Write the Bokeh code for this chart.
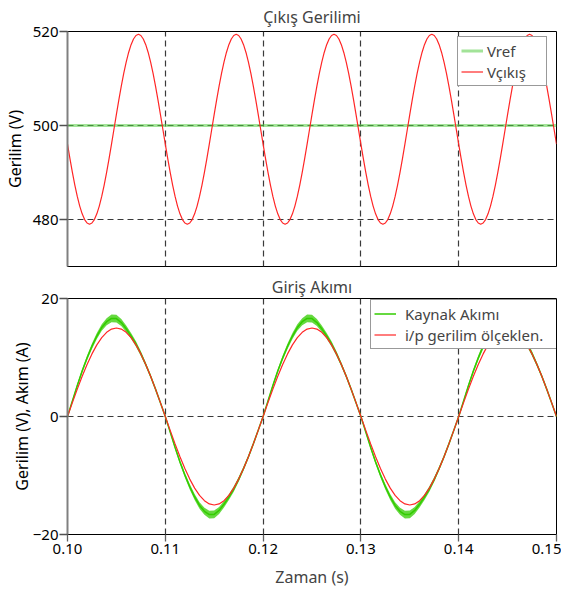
import numpy as np
from bokeh.plotting import figure
from bokeh.layouts import column
from bokeh.models import FixedTicker, Legend, LegendItem, Range1d
from bokeh.embed import file_html
from bokeh.resources import INLINE

FONT = "Noto Sans"

# ---------------- data ----------------
# top panel: output voltage sampled every 0.25 ms from 0.10 s to 0.15 s
t_top = np.round(np.linspace(0.10, 0.15, 201), 6)
v_out = [
    496.04, 492.96, 490.03, 487.33, 484.92, 482.86, 481.20, 479.99, 479.25, 479.00,
    479.25, 479.99, 481.20, 482.86, 484.92, 487.33, 490.03, 492.96, 496.04, 499.20,
    502.36, 505.44, 508.37, 511.07, 513.48, 515.54, 517.20, 518.41, 519.15, 519.40,
    519.15, 518.41, 517.20, 515.54, 513.48, 511.07, 508.37, 505.44, 502.36, 499.20,
    496.04, 492.96, 490.03, 487.33, 484.92, 482.86, 481.20, 479.99, 479.25, 479.00,
    479.25, 479.99, 481.20, 482.86, 484.92, 487.33, 490.03, 492.96, 496.04, 499.20,
    502.36, 505.44, 508.37, 511.07, 513.48, 515.54, 517.20, 518.41, 519.15, 519.40,
    519.15, 518.41, 517.20, 515.54, 513.48, 511.07, 508.37, 505.44, 502.36, 499.20,
    496.04, 492.96, 490.03, 487.33, 484.92, 482.86, 481.20, 479.99, 479.25, 479.00,
    479.25, 479.99, 481.20, 482.86, 484.92, 487.33, 490.03, 492.96, 496.04, 499.20,
    502.36, 505.44, 508.37, 511.07, 513.48, 515.54, 517.20, 518.41, 519.15, 519.40,
    519.15, 518.41, 517.20, 515.54, 513.48, 511.07, 508.37, 505.44, 502.36, 499.20,
    496.04, 492.96, 490.03, 487.33, 484.92, 482.86, 481.20, 479.99, 479.25, 479.00,
    479.25, 479.99, 481.20, 482.86, 484.92, 487.33, 490.03, 492.96, 496.04, 499.20,
    502.36, 505.44, 508.37, 511.07, 513.48, 515.54, 517.20, 518.41, 519.15, 519.40,
    519.15, 518.41, 517.20, 515.54, 513.48, 511.07, 508.37, 505.44, 502.36, 499.20,
    496.04, 492.96, 490.03, 487.33, 484.92, 482.86, 481.20, 479.99, 479.25, 479.00,
    479.25, 479.99, 481.20, 482.86, 484.92, 487.33, 490.03, 492.96, 496.04, 499.20,
    502.36, 505.44, 508.37, 511.07, 513.48, 515.54, 517.20, 518.41, 519.15, 519.40,
    519.15, 518.41, 517.20, 515.54, 513.48, 511.07, 508.37, 505.44, 502.36, 499.20,
    496.04,
]
t_ref = [0.10, 0.15]
v_ref = [500.0, 500.0]

# bottom panel: sampled every 0.5 ms from 0.10 s to 0.15 s
t_bot = np.round(np.linspace(0.10, 0.15, 101), 6)
v_scaled = [
    0.00, 2.35, 4.64, 6.81, 8.82, 10.61, 12.14, 13.37, 14.27, 14.82,
    15.00, 14.82, 14.27, 13.37, 12.14, 10.61, 8.82, 6.81, 4.64, 2.35,
    0.00, -2.35, -4.64, -6.81, -8.82, -10.61, -12.14, -13.37, -14.27, -14.82,
    -15.00, -14.82, -14.27, -13.37, -12.14, -10.61, -8.82, -6.81, -4.64, -2.35,
    0.00, 2.35, 4.64, 6.81, 8.82, 10.61, 12.14, 13.37, 14.27, 14.82,
    15.00, 14.82, 14.27, 13.37, 12.14, 10.61, 8.82, 6.81, 4.64, 2.35,
    0.00, -2.35, -4.64, -6.81, -8.82, -10.61, -12.14, -13.37, -14.27, -14.82,
    -15.00, -14.82, -14.27, -13.37, -12.14, -10.61, -8.82, -6.81, -4.64, -2.35,
    0.00, 2.35, 4.64, 6.81, 8.82, 10.61, 12.14, 13.37, 14.27, 14.82,
    15.00, 14.82, 14.27, 13.37, 12.14, 10.61, 8.82, 6.81, 4.64, 2.35,
    0.00,
]
i_src = [
    0.00, 2.65, 5.24, 7.71, 9.92, 11.91, 13.64, 15.07, 16.07, 16.62,
    16.60, 15.92, 14.87, 13.67, 12.29, 10.66, 8.82, 6.81, 4.64, 2.35,
    0.00, -2.65, -5.24, -7.71, -9.92, -11.91, -13.64, -15.07, -16.07, -16.62,
    -16.60, -15.92, -14.87, -13.67, -12.29, -10.66, -8.82, -6.81, -4.64, -2.35,
    0.00, 2.65, 5.24, 7.71, 9.92, 11.91, 13.64, 15.07, 16.07, 16.62,
    16.60, 15.92, 14.87, 13.67, 12.29, 10.66, 8.82, 6.81, 4.64, 2.35,
    0.00, -2.65, -5.24, -7.71, -9.92, -11.91, -13.64, -15.07, -16.07, -16.62,
    -16.60, -15.92, -14.87, -13.67, -12.29, -10.66, -8.82, -6.81, -4.64, -2.35,
    0.00, 2.65, 5.24, 7.71, 9.92, 11.91, 13.64, 15.07, 16.07, 16.62,
    16.60, 15.92, 14.87, 13.67, 12.29, 10.66, 8.82, 6.81, 4.64, 2.35,
    0.00,
]
# half-width of the switching ripple on the source current
i_ripple = [
    0.15, 0.25, 0.30, 0.35, 0.40, 0.45, 0.50, 0.55, 0.60, 0.65,
    0.65, 0.60, 0.55, 0.50, 0.45, 0.40, 0.35, 0.30, 0.25, 0.20,
    0.15, 0.25, 0.30, 0.35, 0.40, 0.45, 0.50, 0.55, 0.60, 0.65,
    0.65, 0.60, 0.55, 0.50, 0.45, 0.40, 0.35, 0.30, 0.25, 0.20,
    0.15, 0.25, 0.30, 0.35, 0.40, 0.45, 0.50, 0.55, 0.60, 0.65,
    0.65, 0.60, 0.55, 0.50, 0.45, 0.40, 0.35, 0.30, 0.25, 0.20,
    0.15, 0.25, 0.30, 0.35, 0.40, 0.45, 0.50, 0.55, 0.60, 0.65,
    0.65, 0.60, 0.55, 0.50, 0.45, 0.40, 0.35, 0.30, 0.25, 0.20,
    0.15, 0.25, 0.30, 0.35, 0.40, 0.45, 0.50, 0.55, 0.60, 0.65,
    0.65, 0.60, 0.55, 0.50, 0.45, 0.40, 0.35, 0.30, 0.25, 0.20,
    0.15,
]

x_ticks = [0.10, 0.11, 0.12, 0.13, 0.14, 0.15]
x_tick_labels = ["0.10", "0.11", "0.12", "0.13", "0.14", "0.15"]
top_y_ticks = [480, 500, 520]
bot_y_ticks = [-20, 0, 20]

titles = ["Çıkış Gerilimi", "Giriş Akımı"]
y_labels = ["Gerilim (V)", "Gerilim (V), Akım (A)"]
x_label = "Zaman (s)"
top_legend = ["Vref", "Vçıkış"]
bot_legend = ["Kaynak Akımı", "i/p gerilim ölçeklen."]

RED = "#ff2626"
GREEN = "#33cc00"
REF_GREEN = "#55cc44"
GRID = "#3a3a3a"


def style(p, yticks, grid_y):
    p.title.text_font = FONT
    p.title.text_font_size = "16px"
    p.title.text_font_style = "normal"
    p.title.align = "center"
    p.outline_line_color = "black"
    p.outline_line_width = 1
    p.outline_line_alpha = 1
    p.yaxis.ticker = FixedTicker(ticks=yticks)
    p.yaxis.axis_line_color = "#808080"
    p.yaxis.axis_line_width = 2
    p.yaxis.major_tick_line_color = "#505050"
    p.yaxis.major_tick_line_width = 1.3
    p.yaxis.major_tick_out = 8
    p.yaxis.major_tick_in = 0
    p.yaxis.minor_tick_line_color = None
    p.yaxis.major_label_standoff = 1
    p.yaxis.major_label_text_font = FONT
    p.yaxis.major_label_text_font_size = "15px"
    p.yaxis.major_label_text_color = "black"
    p.yaxis.axis_label_text_font = FONT
    p.yaxis.axis_label_text_font_size = "16px"
    p.yaxis.axis_label_text_font_style = "normal"
    p.yaxis.axis_label_text_color = "black"
    p.xgrid.ticker = FixedTicker(ticks=[0.11, 0.12, 0.13, 0.14])
    p.ygrid.ticker = FixedTicker(ticks=grid_y)
    for g in (p.xgrid, p.ygrid):
        g.grid_line_color = GRID
        g.grid_line_dash = "6 4"
        g.grid_line_width = 1.2
    p.background_fill_color = "white"
    p.border_fill_color = "white"


def style_legend(lg):
    lg.border_line_color = "#333333"
    lg.border_line_width = 1
    lg.background_fill_color = "white"
    lg.background_fill_alpha = 1
    lg.label_text_font = FONT
    lg.label_text_font_size = "15px"
    lg.label_height = 21
    lg.glyph_height = 21
    lg.glyph_width = 22
    lg.spacing = 0
    lg.padding = 3
    lg.margin = 0


# ---------------- top figure ----------------
top = figure(frame_width=489, frame_height=235,
             x_range=Range1d(0.10, 0.15), y_range=Range1d(470, 520),
             output_backend="svg", toolbar_location=None, title=titles[0],
             min_border_left=63, min_border_right=9, min_border_top=30, min_border_bottom=7)
style(top, top_y_ticks, [480, 500])
top.title.standoff = 7
top.xaxis.visible = False
top.yaxis.axis_label = y_labels[0]
top.yaxis.axis_label_standoff = 4

r_ref = top.line(t_ref, v_ref, line_color=REF_GREEN, line_width=3, line_alpha=0.55)
r_out = top.line(t_top, v_out, line_color=RED, line_width=1.2)

lg1 = Legend(items=[LegendItem(label=top_legend[0], renderers=[r_ref]),
                    LegendItem(label=top_legend[1], renderers=[r_out])],
             location=(390, 180))
style_legend(lg1)
lg1.label_standoff = 4
lg1.label_width = 56
top.add_layout(lg1)

# ---------------- bottom figure ----------------
bot = figure(frame_width=489, frame_height=236,
             x_range=Range1d(0.10, 0.15), y_range=Range1d(-20, 20),
             output_backend="svg", toolbar_location=None, title=titles[1],
             min_border_left=63, min_border_right=9, min_border_top=23, min_border_bottom=2)
style(bot, bot_y_ticks, [0])
bot.title.standoff = 1
bot.yaxis.axis_label = y_labels[1]
bot.yaxis.axis_label_standoff = -3

bot.xaxis.ticker = FixedTicker(ticks=x_ticks)
bot.xaxis.major_label_overrides = dict(zip(x_ticks, x_tick_labels))
bot.xaxis.axis_line_color = "black"
bot.xaxis.axis_line_width = 1
bot.xaxis.major_tick_line_color = "#606060"
bot.xaxis.major_tick_line_width = 1.3
bot.xaxis.major_tick_out = 7
bot.xaxis.major_tick_in = 0
bot.xaxis.minor_tick_line_color = None
bot.xaxis.major_label_standoff = 2
bot.xaxis.major_label_text_font = FONT
bot.xaxis.major_label_text_font_size = "15px"
bot.xaxis.major_label_text_color = "black"
bot.xaxis.axis_label = x_label
bot.xaxis.axis_label_text_font = FONT
bot.xaxis.axis_label_text_font_size = "16px"
bot.xaxis.axis_label_text_font_style = "normal"
bot.xaxis.axis_label_standoff = 9

upper = [c + w for c, w in zip(i_src, i_ripple)]
lower = [c - w for c, w in zip(i_src, i_ripple)]
bot.varea(x=t_bot, y1=lower, y2=upper, fill_color=GREEN, fill_alpha=0.75)
r_src = bot.line(t_bot, i_src, line_color=GREEN, line_width=1.5)
r_vs = bot.line(t_bot, v_scaled, line_color=RED, line_width=1.2)

lg2 = Legend(items=[LegendItem(label=bot_legend[0], renderers=[r_src]),
                    LegendItem(label=bot_legend[1], renderers=[r_vs])],
             location=(303, 185))
style_legend(lg2)
lg2.label_standoff = 9
lg2.label_width = 154
bot.add_layout(lg2)

layout = column(top, bot, spacing=0)
open("out.html", "w").write(file_html(layout, INLINE))
